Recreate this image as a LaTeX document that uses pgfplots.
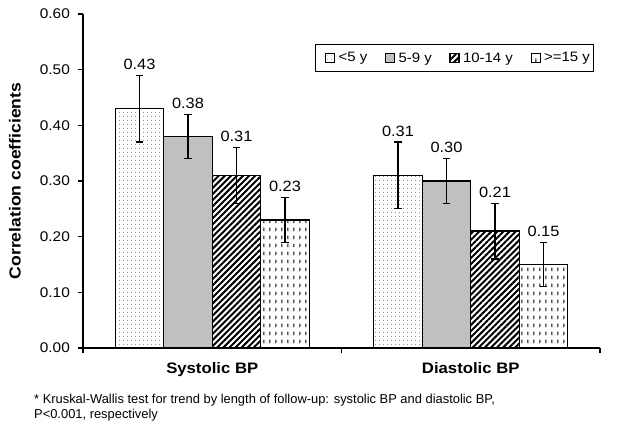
\documentclass[border=0pt]{standalone}
\usepackage{pgfplots}
\pgfplotsset{compat=1.18}
\usepackage{fontspec}
\setmainfont{Liberation Sans}[FakeStretch=1.1]
\newfontfamily\fnfont{Liberation Sans}
\usetikzlibrary{patterns,patterns.meta}

\tikzdeclarepattern{
  name=vdash,
  type=uncolored,
  bottom left={(0pt,0pt)},
  top right={(5.8pt,8pt)},
  tile size={(5.8pt,8pt)},
  code={
    \pgfsetlinewidth{1pt}
    \pgfpathmoveto{\pgfpoint{2.9pt}{1pt}}
    \pgfpathlineto{\pgfpoint{2.9pt}{5pt}}
    \pgfusepath{stroke}
  }
}

\definecolor{barGray}{RGB}{192,192,192}

\pgfplotstableread{
x y err
0 0.43 0.06
1 0.31 0.06
}\tA
\pgfplotstableread{
x y err
0 0.38 0.04
1 0.30 0.04
}\tB
\pgfplotstableread{
x y err
0 0.31 0.05
1 0.21 0.05
}\tC
\pgfplotstableread{
x y err
0 0.23 0.04
1 0.15 0.04
}\tD

\begin{document}
\begin{tikzpicture}
\useasboundingbox (-83pt,-83pt) rectangle (540pt,348pt);
\begin{axis}[
  at={(0pt,0pt)}, anchor=south west,
  scale only axis, width=517pt, height=334pt,
  clip=false,
  xmin=-0.5, xmax=1.5, ymin=0, ymax=0.6,
  ybar=0pt, bar width=0.1876,
  axis lines*=left,
  axis line style={line width=1.2pt},
  tick style={line width=1.2pt, black},
  tick align=outside,
  major tick length=5pt,
  xtick={-0.5,0.5,1.5}, xticklabels={},
  extra x ticks={0,1},
  extra x tick labels={Systolic BP, Diastolic BP},
  extra x tick style={major tick length=0pt, tick label style={font=\fontsize{15.2}{17}\selectfont\bfseries, yshift=-11pt}},
  ytick={0,0.1,0.2,0.3,0.4,0.5,0.6},
  yticklabel style={/pgf/number format/fixed, /pgf/number format/fixed zerofill, /pgf/number format/precision=2, /pgf/number format/assume math mode=true, xshift=-4.6pt},
  tick label style={font=\fontsize{14}{16}\selectfont},
  ylabel={Correlation coefficients},
  ylabel style={font=\fontsize{16}{18}\selectfont\bfseries, at={(axis description cs:-0.1315,0.5)}, anchor=center},
  legend columns=4,
  legend style={at={(axis description cs:0.988,0.910)}, anchor=north east,
    draw=black, line width=0.9pt, font=\fontsize{13.6}{15}\selectfont,
    inner xsep=1.5pt, inner ysep=6pt,
    /tikz/every odd column/.append style={column sep=1.5pt},
    /tikz/every even column/.append style={column sep=7.5pt}},
  every axis plot/.append style={draw=black, line width=1.3pt,
    error bars/y dir=both, error bars/y explicit,
    error bars/error bar style={line width=1.2pt, black},
    error bars/error mark options={rotate=90, mark size=3.6pt, line width=1.2pt, black}},
  mylegend/.style={legend image code/.code={\path (-8pt,0pt); \draw[##1, line width=1.1pt] (0pt,-4.5pt) rectangle (9pt,4.5pt);}},
  nodes near coords,
  nodes near coords style={font=\fontsize{14.9}{16}\selectfont, /pgf/number format/fixed, /pgf/number format/fixed zerofill, /pgf/number format/precision=2, /pgf/number format/assume math mode=true},
]
\addplot[fill=white, postaction={pattern={Dots[distance=4pt, radius=0.5pt]}, pattern color=black!75}, mylegend,
  every node near coord/.append style={yshift=35.1pt}]
  table[x=x, y=y, y error=err] {\tA};
\addlegendentry{<5 y}
\addplot[fill=barGray, mylegend,
  every node near coord/.append style={yshift=24pt}]
  table[x=x, y=y, y error=err] {\tB};
\addlegendentry{5-9 y}
\addplot[fill=white, postaction={pattern={Lines[angle=45, distance=4.3pt, line width=2pt]}, pattern color=black}, mylegend,
  every node near coord/.append style={yshift=29.5pt}]
  table[x=x, y=y, y error=err] {\tC};
\addlegendentry{10-14 y}
\addplot[fill=white, postaction={pattern=vdash, pattern color=black}, mylegend,
  every node near coord/.append style={yshift=24pt}]
  table[x=x, y=y, y error=err] {\tD};
\addlegendentry{>=15 y}
\node[anchor=north west, align=left, inner sep=0pt, font=\fnfont\fontsize{12.9}{15}\selectfont]
  at (axis description cs:-0.0948,-0.1377)
  {* Kruskal-Wallis test for trend by length of follow-up: systolic BP and diastolic BP,\\P<0.001, respectively};
\end{axis}
\end{tikzpicture}
\end{document}
